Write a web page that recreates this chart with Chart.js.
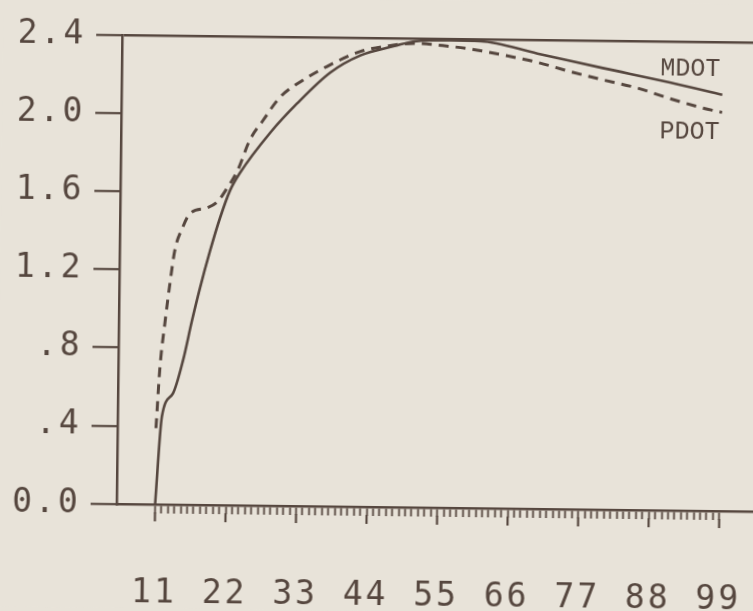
<!DOCTYPE html>
<html>
<head>
<meta charset="utf-8">
<script src="https://cdn.jsdelivr.net/npm/chart.js@4.4.0/dist/chart.umd.min.js"></script>
<style>
  html, body { margin: 0; padding: 0; background: #e8e3d9; overflow: hidden; }
  #plot {
    display: block;
    background: #e8e3d9;
    transform: rotate(0.68deg);
    transform-origin: 376.5px 305.5px;
  }
</style>
</head>
<body>
<canvas id="plot" width="773" height="611"></canvas>
<script>
// values
var mdotX = [11.0, 11.9, 13.6, 15.1, 16.4, 17.6, 19.1, 20.6, 22.1, 23.6, 28.3, 32.4, 37.5, 42.2, 47.5, 50.6, 56.1, 60.9, 69.8, 80.0, 90.5, 98.7];
var mdotY = [0.0, 0.45, 0.57, 0.74, 0.94, 1.11, 1.30, 1.47, 1.61, 1.70, 1.91, 2.06, 2.22, 2.31, 2.36, 2.385, 2.392, 2.39, 2.33, 2.26, 2.19, 2.13];

var pdotX = [11.0, 11.5, 12.2, 12.9, 13.6, 14.8, 15.9, 18.5, 20.1, 21.6, 23.2, 25.1, 27.1, 29.7, 33.3, 37.5, 42.2, 46.5, 50.5, 55.0, 59.3, 64.5, 69.8, 74.9, 80.0, 85.4, 90.5, 95.6, 98.7];
var pdotY = [0.39, 0.70, 0.93, 1.13, 1.30, 1.42, 1.49, 1.52, 1.55, 1.62, 1.71, 1.87, 1.97, 2.09, 2.18, 2.26, 2.33, 2.36, 2.375, 2.365, 2.349, 2.32, 2.285, 2.24, 2.20, 2.16, 2.108, 2.062, 2.04];

var xMajor = [11, 22, 33, 44, 55, 66, 77, 88, 99];
var yTicks = [0, 0.4, 0.8, 1.2, 1.6, 2.0, 2.4];
var yLabels = ["0.0", ".4", ".8", "1.2", "1.6", "2.0", "2.4"];

var seriesNames = ["MDOT", "PDOT"];
var namePos = [[89.0, 2.227], [89.0, 1.904]];

var ink = "#56473f";

function toPoints(xs, ys) {
  return xs.map(function (x, i) { return { x: x, y: ys[i] }; });
}

// one small tick for every unit from 11 to 99
var xMinor = [];
for (var v = xMajor[0]; v <= xMajor[xMajor.length - 1]; v++) xMinor.push(v);

var plotter = {
  id: "plotter",
  beforeDraw: function (chart) {
    chart.ctx.letterSpacing = "3px";
  },
  afterDraw: function (chart) {
    var ctx = chart.ctx;
    var xs = chart.scales.x;
    var ys = chart.scales.y;
    ctx.save();
    ctx.letterSpacing = "0px";
    // longer marks at the labelled ticks
    ctx.strokeStyle = ink;
    ctx.lineWidth = 2.2;
    xMajor.forEach(function (m) {
      var px = xs.getPixelForValue(m);
      ctx.beginPath();
      ctx.moveTo(px, chart.chartArea.bottom + 8);
      ctx.lineTo(px, chart.chartArea.bottom + 17);
      ctx.stroke();
    });
    // curve names
    ctx.fillStyle = ink;
    ctx.font = "25px 'Liberation Mono'";
    ctx.textAlign = "left";
    ctx.textBaseline = "alphabetic";
    seriesNames.forEach(function (n, i) {
      ctx.fillText(n, xs.getPixelForValue(namePos[i][0]), ys.getPixelForValue(namePos[i][1]));
    });
    ctx.restore();
  }
};

new Chart(document.getElementById("plot"), {
  type: "line",
  data: {
    datasets: [
      {
        label: "MDOT",
        data: toPoints(mdotX, mdotY),
        borderColor: ink,
        borderWidth: 2.6,
        pointRadius: 0,
        cubicInterpolationMode: "monotone",
        fill: false
      },
      {
        label: "PDOT",
        data: toPoints(pdotX, pdotY),
        borderColor: ink,
        borderWidth: 3,
        borderDash: [10, 7],
        pointRadius: 0,
        cubicInterpolationMode: "monotone",
        fill: false
      }
    ]
  },
  options: {
    responsive: false,
    animation: false,
    events: [],
    layout: { padding: { top: 38, left: 0, right: 0, bottom: 0 } },
    plugins: {
      legend: { display: false },
      tooltip: { enabled: false }
    },
    scales: {
      x: {
        type: "linear",
        min: 5,
        max: 107,
        afterFit: function (scale) {
          scale.height = 104;
          scale.paddingLeft = 0;
          scale.paddingRight = 0;
        },
        afterBuildTicks: function (scale) {
          scale.ticks = xMinor.map(function (t) { return { value: t }; });
        },
        border: { display: true, color: ink, width: 2.5 },
        grid: {
          drawOnChartArea: false,
          drawTicks: true,
          tickLength: 9,
          tickColor: ink,
          tickWidth: 1.8
        },
        ticks: {
          autoSkip: false,
          maxRotation: 0,
          padding: 61,
          color: ink,
          font: { family: "'DejaVu Sans Mono'", size: 33 },
          callback: function (value) {
            return xMajor.indexOf(value) >= 0 ? String(value) : "";
          }
        }
      },
      y: {
        min: 0,
        max: 2.4,
        afterFit: function (scale) {
          scale.width = 119;
          scale.paddingTop = 0;
          scale.paddingBottom = 0;
        },
        afterBuildTicks: function (scale) {
          scale.ticks = yTicks.map(function (t) { return { value: t }; });
        },
        border: { display: true, color: ink, width: 2.5 },
        grid: {
          drawTicks: true,
          tickLength: 26,
          tickColor: ink,
          tickWidth: 2.2,
          lineWidth: 2.5,
          color: function (c) {
            return c.tick && Math.abs(c.tick.value - 2.4) < 1e-6 ? ink : "rgba(0,0,0,0)";
          }
        },
        ticks: {
          padding: 10,
          color: ink,
          font: { family: "'DejaVu Sans Mono'", size: 33 },
          callback: function (value) {
            var i = yTicks.indexOf(value);
            return i >= 0 ? yLabels[i] : "";
          }
        }
      }
    }
  },
  plugins: [plotter]
});
</script>
</body>
</html>
